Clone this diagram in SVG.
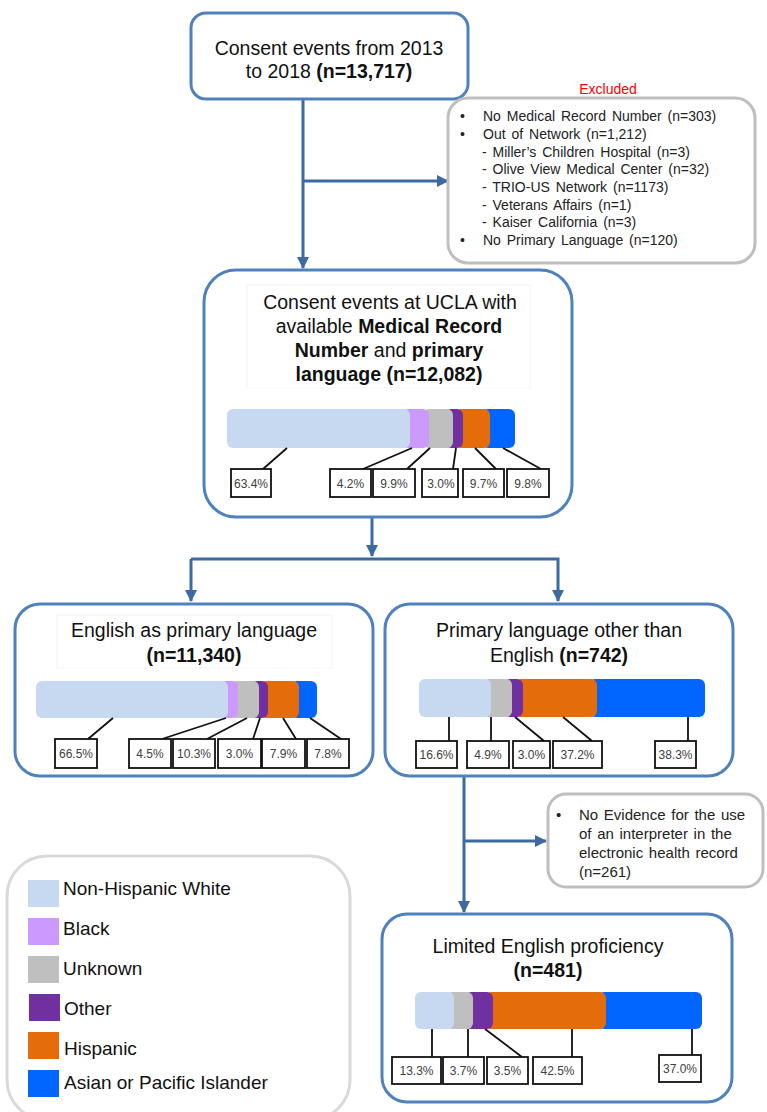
<svg xmlns="http://www.w3.org/2000/svg" width="767" height="1112" viewBox="0 0 767 1112">
<defs>
<style>
.box{fill:#fff;stroke:#4f81bd;stroke-width:3}
.gbox{fill:#fff;stroke:#bfbfbf;stroke-width:3}
.inner{fill:#fff;stroke:#f4f4f4;stroke-width:1}
.t{font-family:"Liberation Sans",Arial,sans-serif;fill:#111}
.title{font-size:19.5px}
.b{font-weight:bold}
.ex{font-size:14px;word-spacing:2px;fill:#222}
.ex2{font-size:15px;word-spacing:1.5px;fill:#222}
.leg{font-size:19px}
.lbl{fill:#fff;stroke:#111;stroke-width:1.8}
.lt{font-family:"Liberation Sans",Arial,sans-serif;font-size:12px;fill:#404040;text-anchor:middle}
.ld{stroke:#111;stroke-width:1.8;fill:none}
.conn{stroke:#3d6aa3;stroke-width:3;fill:none}
.lb{fill:#c6d9f0}.lav{fill:#cc99ff}.gr{fill:#bfbfbf}.pu{fill:#7030a0}.or{fill:#e46c0a}.bl{fill:#0066ff}
</style>
<marker id="ah" viewBox="0 0 12 12" refX="11" refY="6" markerWidth="12" markerHeight="12" markerUnits="userSpaceOnUse" orient="auto">
<path d="M0,0 L12,6 L0,12 Z" fill="#3d6aa3"/>
</marker>
</defs>

<g id="connectors">
<line class="conn" x1="303" y1="100" x2="303" y2="268" marker-end="url(#ah)"/>
<line class="conn" x1="303" y1="181" x2="448" y2="181" marker-end="url(#ah)"/>
<line class="conn" x1="372" y1="517" x2="372" y2="556" marker-end="url(#ah)"/>
<polyline class="conn" points="191,559 558,559 558,601" marker-end="url(#ah)"/>
<line class="conn" x1="191" y1="559" x2="191" y2="601" marker-end="url(#ah)"/>
<line class="conn" x1="464" y1="777" x2="464" y2="912" marker-end="url(#ah)"/>
<line class="conn" x1="464" y1="841" x2="546" y2="841" marker-end="url(#ah)"/>
</g>

<g id="n-start">
<rect class="box" x="191" y="13" width="277" height="86" rx="15"/>
<text class="t title" x="329" y="55" text-anchor="middle">Consent events from 2013</text>
<text class="t title" x="329" y="78" text-anchor="middle">to 2018 <tspan class="b">(n=13,717)</tspan></text>
</g>

<g id="n-excluded">
<text class="t" x="608" y="94" text-anchor="middle" style="font-size:14px;fill:#ff0000">Excluded</text>
<rect class="gbox" x="448" y="98" width="307" height="165" rx="20"/>
<g class="t ex">
<text x="460" y="121">•</text><text x="483" y="121">No Medical Record Number (n=303)</text>
<text x="460" y="139">•</text><text x="483" y="139">Out of Network (n=1,212)</text>
<text x="482" y="157">- Miller’s Children Hospital (n=3)</text>
<text x="482" y="174">- Olive View Medical Center (n=32)</text>
<text x="482" y="192">- TRIO-US Network (n=1173)</text>
<text x="482" y="210">- Veterans Affairs (n=1)</text>
<text x="482" y="227">- Kaiser California (n=3)</text>
<text x="460" y="245">•</text><text x="483" y="245">No Primary Language (n=120)</text>
</g>
</g>

<g id="n-ucla">
<rect class="box" x="204" y="270" width="368" height="247" rx="32"/>
<rect class="inner" x="247" y="285" width="283" height="103"/>
<text class="t title" x="390" y="309" text-anchor="middle">Consent events at UCLA with</text>
<text class="t title" x="389" y="333" text-anchor="middle">available <tspan class="b">Medical Record</tspan></text>
<text class="t title" x="389" y="357" text-anchor="middle"><tspan class="b">Number</tspan> and <tspan class="b">primary</tspan></text>
<text class="t title b" x="389" y="381" text-anchor="middle">language (n=12,082)</text>
<rect class="bl" x="482" y="409" width="33" height="39" rx="6"/>
<rect class="or" x="455" y="409" width="35" height="39" rx="6"/>
<rect class="pu" x="445" y="409" width="18" height="39" rx="6"/>
<rect class="gr" x="423" y="409" width="30" height="39" rx="6"/>
<rect class="lav" x="402" y="409" width="27" height="39" rx="6"/>
<rect class="lb" x="227" y="409" width="183" height="39" rx="6"/>
<path class="ld" d="M287,448 L263,469 M412,448 L363,469 M430,448 L407,469 M456,448 L453,469 M475,448 L496,469 M503,448 L541,469"/>
<rect class="lbl" x="231" y="469" width="40" height="28"/><text class="lt" x="251" y="488">63.4%</text>
<rect class="lbl" x="330" y="469" width="41" height="28"/><text class="lt" x="350.5" y="488">4.2%</text>
<rect class="lbl" x="373" y="469" width="42" height="28"/><text class="lt" x="394" y="488">9.9%</text>
<rect class="lbl" x="422" y="469" width="36" height="28"/><text class="lt" x="441" y="488">3.0%</text>
<rect class="lbl" x="463" y="469" width="41" height="28"/><text class="lt" x="483.5" y="488">9.7%</text>
<rect class="lbl" x="507" y="469" width="42" height="28"/><text class="lt" x="528" y="488">9.8%</text>
</g>

<g id="n-english">
<rect class="box" x="15" y="604" width="358" height="172" rx="25"/>
<rect class="inner" x="57" y="615" width="275" height="53"/>
<text class="t title" x="194" y="637" text-anchor="middle">English as primary language</text>
<text class="t title b" x="194" y="662" text-anchor="middle">(n=11,340)</text>
<rect class="bl" x="291" y="681" width="26" height="37" rx="6"/>
<rect class="or" x="260" y="681" width="39" height="37" rx="6"/>
<rect class="pu" x="251" y="681" width="17" height="37" rx="6"/>
<rect class="gr" x="230" y="681" width="29" height="37" rx="6"/>
<rect class="lav" x="220" y="681" width="18" height="37" rx="6"/>
<rect class="lb" x="36" y="681" width="192" height="37" rx="6"/>
<path class="ld" d="M113,718 L88,739 M226,718 L162,739 M247,718 L207,739 M260,718 L253,739 M283,718 L296,739 M310,718 L341,739"/>
<rect class="lbl" x="55" y="739" width="42" height="29"/><text class="lt" x="76" y="758">66.5%</text>
<rect class="lbl" x="129" y="739" width="42" height="29"/><text class="lt" x="150" y="758">4.5%</text>
<rect class="lbl" x="173" y="739" width="42" height="29"/><text class="lt" x="194" y="758">10.3%</text>
<rect class="lbl" x="218" y="739" width="43" height="29"/><text class="lt" x="239.5" y="758">3.0%</text>
<rect class="lbl" x="262" y="739" width="43" height="29"/><text class="lt" x="283.5" y="758">7.9%</text>
<rect class="lbl" x="307" y="739" width="42" height="29"/><text class="lt" x="328" y="758">7.8%</text>
</g>

<g id="n-other">
<rect class="box" x="385" y="604" width="348" height="172" rx="25"/>
<text class="t title" x="559" y="637" text-anchor="middle">Primary language other than</text>
<text class="t title" x="559" y="662" text-anchor="middle">English <tspan class="b">(n=742)</tspan></text>
<rect class="bl" x="589" y="679" width="116" height="38" rx="6"/>
<rect class="or" x="515" y="679" width="82" height="38" rx="6"/>
<rect class="pu" x="504" y="679" width="19" height="38" rx="6"/>
<rect class="gr" x="483" y="679" width="29" height="38" rx="6"/>
<rect class="lb" x="419" y="679" width="72" height="38" rx="6"/>
<path class="ld" d="M449,717 L449,741 M491,717 L491,741 M515,717 L544,741 M563,717 L592,741 M688,717 L688,741"/>
<rect class="lbl" x="416" y="741" width="41" height="27"/><text class="lt" x="436.5" y="759">16.6%</text>
<rect class="lbl" x="467" y="741" width="42" height="27"/><text class="lt" x="488" y="759">4.9%</text>
<rect class="lbl" x="513" y="741" width="37" height="27"/><text class="lt" x="531.5" y="759">3.0%</text>
<rect class="lbl" x="553" y="741" width="49" height="27"/><text class="lt" x="577.5" y="759">37.2%</text>
<rect class="lbl" x="655" y="741" width="41" height="27"/><text class="lt" x="675.5" y="759">38.3%</text>
</g>

<g id="n-noevidence">
<rect class="gbox" x="548" y="794" width="215" height="93" rx="18"/>
<g class="t ex2">
<text x="556" y="820">•</text>
<text x="579" y="820">No Evidence for the use</text>
<text x="579" y="839">of an interpreter in the</text>
<text x="579" y="858">electronic health record</text>
<text x="579" y="877">(n=261)</text>
</g>
</g>

<g id="n-lep">
<rect class="box" x="382" y="914" width="350" height="188" rx="25"/>
<text class="t title" x="548" y="953" text-anchor="middle">Limited English proficiency</text>
<text class="t title b" x="548" y="977" text-anchor="middle">(n=481)</text>
<rect class="bl" x="598" y="992" width="104" height="37" rx="6"/>
<rect class="or" x="485" y="992" width="121" height="37" rx="6"/>
<rect class="pu" x="465" y="992" width="28" height="37" rx="6"/>
<rect class="gr" x="446" y="992" width="27" height="37" rx="6"/>
<rect class="lb" x="415" y="992" width="39" height="37" rx="6"/>
<path class="ld" d="M432,1029 L432,1057 M468,1029 L468,1057 M485,1029 L522,1057 M572,1029 L572,1057 M692,1029 L692,1055"/>
<rect class="lbl" x="392" y="1057" width="49" height="27"/><text class="lt" x="416.5" y="1075">13.3%</text>
<rect class="lbl" x="443" y="1057" width="41" height="27"/><text class="lt" x="463.5" y="1075">3.7%</text>
<rect class="lbl" x="487" y="1057" width="41" height="27"/><text class="lt" x="507.5" y="1075">3.5%</text>
<rect class="lbl" x="533" y="1057" width="49" height="27"/><text class="lt" x="557.5" y="1075">42.5%</text>
<rect class="lbl" x="659" y="1055" width="42" height="27"/><text class="lt" x="680" y="1073">37.0%</text>
</g>

<g id="legend">
<rect x="7" y="856" width="343" height="264" rx="40" fill="#fff" stroke="#d9d9d9" stroke-width="3"/>
<rect class="lb" x="28" y="880" width="31" height="27"/>
<rect class="lav" x="28" y="918" width="31" height="27"/>
<rect class="gr" x="28" y="956" width="31" height="27"/>
<rect class="pu" x="29" y="994" width="31" height="27"/>
<rect class="or" x="28" y="1032" width="31" height="27"/>
<rect class="bl" x="28" y="1070" width="31" height="27"/>
<g class="t leg">
<text x="63" y="895">Non-Hispanic White</text>
<text x="63" y="935">Black</text>
<text x="63" y="975">Unknown</text>
<text x="64" y="1015">Other</text>
<text x="64" y="1055">Hispanic</text>
<text x="64" y="1089">Asian or Pacific Islander</text>
</g>
</g>
</svg>
